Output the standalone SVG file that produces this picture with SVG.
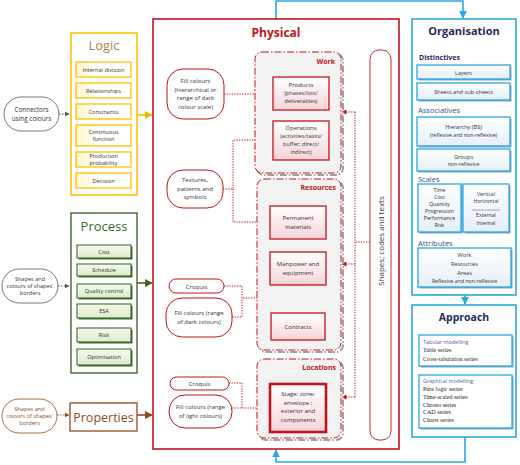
<svg xmlns="http://www.w3.org/2000/svg" width="520" height="465" viewBox="0 0 520 465">
<defs>
<linearGradient id="gY" x1="0" y1="0" x2="1" y2="0"><stop offset="0" stop-color="#FFF3C8"/><stop offset="0.4" stop-color="#FFFFFF"/></linearGradient>
<linearGradient id="gG" x1="0" y1="0" x2="0" y2="1"><stop offset="0" stop-color="#F4F9EE"/><stop offset="1" stop-color="#DCEBCB"/></linearGradient>
<linearGradient id="gR" x1="0" y1="0" x2="0" y2="1"><stop offset="0" stop-color="#FFFFFF"/><stop offset="1" stop-color="#F6D4D8"/></linearGradient>
<linearGradient id="gB" x1="0" y1="0" x2="0" y2="1"><stop offset="0" stop-color="#FFFFFF"/><stop offset="1" stop-color="#E4EEF7"/></linearGradient>
<marker id="aY" viewBox="0 0 10 10" refX="9" refY="5" markerWidth="5" markerHeight="5" orient="auto"><path d="M0,0L10,5L0,10z" fill="#F5B800"/></marker>
<marker id="aG" viewBox="0 0 10 10" refX="9" refY="5" markerWidth="5" markerHeight="5" orient="auto"><path d="M0,0L10,5L0,10z" fill="#4E5E23"/></marker>
<marker id="aBr" viewBox="0 0 10 10" refX="9" refY="5" markerWidth="5" markerHeight="5" orient="auto"><path d="M0,0L10,5L0,10z" fill="#8E4A1E"/></marker>
<marker id="aK" viewBox="0 0 10 10" refX="9" refY="5" markerWidth="5" markerHeight="5" orient="auto"><path d="M0,0L10,5L0,10z" fill="#555"/></marker>
<marker id="aR" viewBox="0 0 10 10" refX="9" refY="5" markerWidth="5" markerHeight="5" orient="auto-start-reverse"><path d="M0,0L10,5L0,10z" fill="#C0141C"/></marker>
<marker id="aB" viewBox="0 0 10 10" refX="9" refY="5" markerWidth="5" markerHeight="5" orient="auto"><path d="M0,0L10,5L0,10z" fill="#29A8E0"/></marker>
</defs>
<style>
text{font-family:"Open Sans","Liberation Sans",sans-serif;text-anchor:middle;fill:#333}
.s{font-size:5.6px}
.p{font-size:6px}
.m{font-size:6.4px}
.yb{fill:url(#gY);stroke:#FFC000;stroke-width:1.3}
.gb{fill:url(#gG);stroke:#2E5E1E;stroke-width:1}
.gsh{fill:#4A6A30}
.rb{fill:url(#gR);stroke:#C0141C;stroke-width:1.3}
.bb{fill:url(#gB);stroke:#29A8E0;stroke-width:1.3}
.bsh{fill:#8AA6C0}
.pill{fill:#fff;stroke:#C0141C;stroke-width:1}
.grp{fill:#F2F2F2;stroke:#C0141C;stroke-width:1;stroke-dasharray:7 2 1.5 2}
.gsd{fill:none;stroke:#A0A0A0;stroke-width:2;stroke-dasharray:7 2 1.5 2}
.rd{fill:none;stroke:#C0141C;stroke-width:1;stroke-dasharray:1.3 1.3}
.gt{font-weight:bold;fill:#C0141C;font-size:7px;text-anchor:end}
.ot{font-size:7.5px;fill:#3C4A8C;text-anchor:start}
.ser{font-family:"Liberation Serif",serif;font-size:6px;text-anchor:start;fill:#222}
</style>

<g id="connectors">
<path d="M59,114H69" fill="none" stroke="#555" stroke-width="1" stroke-dasharray="1.5 1.5" marker-end="url(#aK)"/>
<path d="M58,286H69" fill="none" stroke="#555" stroke-width="1" stroke-dasharray="1.5 1.5" marker-end="url(#aK)"/>
<path d="M57,415H69" fill="none" stroke="#8E4A1E" stroke-width="1" stroke-dasharray="1.5 1.5" marker-end="url(#aBr)"/>
<path d="M137,115H152" fill="none" stroke="#F5B800" stroke-width="1.6" marker-end="url(#aY)"/>
<path d="M137,283H152" fill="none" stroke="#4E5E23" stroke-width="1.6" marker-end="url(#aG)"/>
<path d="M137,415H152" fill="none" stroke="#8E4A1E" stroke-width="1.6" marker-end="url(#aBr)"/>
<path d="M276,19V1H463V18" fill="none" stroke="#29A8E0" stroke-width="1.6" marker-end="url(#aB)"/>
<path d="M465,295V304" fill="none" stroke="#29A8E0" stroke-width="1.6" marker-end="url(#aB)"/>
<path d="M465,437V462H276V450" fill="none" stroke="#29A8E0" stroke-width="1.6" marker-end="url(#aB)"/>
<path d="M224,94H272" class="rd" marker-end="url(#aR)"/>
<path d="M223,189H233V140H272" class="rd" marker-end="url(#aR)"/>
<path d="M233,189V222H269" class="rd" marker-end="url(#aR)"/>
<path d="M224,286H242V298H298" class="rd"/>
<path d="M232,317H242V298" class="rd"/>
<path d="M298,287V312" class="rd" marker-start="url(#aR)" marker-end="url(#aR)"/>
<path d="M229,383H242V408" class="rd"/>
<path d="M232,408H268" class="rd" marker-end="url(#aR)"/>
<path d="M370,242H355" class="rd"/>
<path d="M355,112V397" class="rd"/>
<path d="M355,112H342" class="rd" marker-end="url(#aR)"/>
<path d="M355,264H342" class="rd" marker-end="url(#aR)"/>
<path d="M355,397H342" class="rd" marker-end="url(#aR)"/>
</g>

<g id="connectors-pill">
<rect x="4" y="97" width="55" height="34" rx="17" fill="#fff" stroke="#555" stroke-width="0.8"/>
<text x="31.5" y="112" class="m">Connectors</text>
<text x="31.5" y="121" class="m">using colours</text>
</g>

<g id="logic">
<rect x="71" y="33" width="66" height="162" fill="#fff" stroke="#FFC000" stroke-width="1.6"/>
<text x="104" y="50" style="font-size:13px;fill:#A8864A">Logic</text>
<rect x="76" y="62" width="55" height="15" class="yb"/><text x="103.5" y="71.5" class="s">Internal division</text>
<rect x="76" y="83" width="55" height="15" class="yb"/><text x="103.5" y="92.5" class="s">Relationships</text>
<rect x="76" y="104" width="55" height="15" class="yb"/><text x="103.5" y="113.5" class="s">Constraints</text>
<rect x="76" y="125" width="55" height="21" class="yb"/><text x="103.5" y="134" class="s">Continuous</text><text x="103.5" y="141" class="s">function</text>
<rect x="76" y="152" width="55" height="15" class="yb"/><text x="103.5" y="158" class="s">Production</text><text x="103.5" y="165" class="s">probability</text>
<rect x="76" y="173" width="55" height="15" class="yb"/><text x="103.5" y="182.5" class="s">Decision</text>
</g>

<g id="shapes-pill-process">
<rect x="2" y="269" width="56" height="34" rx="17" fill="#fff" stroke="#555" stroke-width="0.8"/>
<text x="30" y="281" class="s">Shapes and</text>
<text x="30" y="288" class="s">colours of shapes'</text>
<text x="30" y="295" class="s">borders</text>
</g>

<g id="process">
<rect x="71" y="213" width="66" height="160" fill="#fff" stroke="#2E5E1E" stroke-width="1.3"/>
<text x="104" y="231" style="font-size:13px;fill:#3A6B2A">Process</text>
<rect x="78.5" y="246.5" width="54" height="13" class="gsh"/><rect x="77" y="245" width="54" height="13" class="gb"/><text x="104" y="253.5" class="s">Cost</text>
<rect x="78.5" y="265.5" width="54" height="12" class="gsh"/><rect x="77" y="264" width="54" height="12" class="gb"/><text x="104" y="272" class="s">Schedule</text>
<rect x="78.5" y="285.5" width="54" height="14" class="gsh"/><rect x="77" y="284" width="54" height="14" class="gb"/><text x="104" y="293" class="s">Quality control</text>
<rect x="78.5" y="305.5" width="54" height="14" class="gsh"/><rect x="77" y="304" width="54" height="14" class="gb"/><text x="104" y="313" class="s">ESA</text>
<rect x="78.5" y="329.5" width="54" height="14" class="gsh"/><rect x="77" y="328" width="54" height="14" class="gb"/><text x="104" y="337" class="s">Risk</text>
<rect x="78.5" y="350.5" width="54" height="16" class="gsh"/><rect x="77" y="349" width="54" height="16" class="gb"/><text x="104" y="359" class="s">Optimisation</text>
</g>

<g id="shapes-pill-properties">
<rect x="2" y="399" width="55" height="34" rx="17" fill="#fff" stroke="#8E4A1E" stroke-width="0.8"/>
<text x="29.5" y="411" class="s" style="fill:#8E4A1E">Shapes and</text>
<text x="29.5" y="418" class="s" style="fill:#8E4A1E">colours of shapes'</text>
<text x="29.5" y="425" class="s" style="fill:#8E4A1E">borders</text>
</g>

<g id="properties">
<rect x="70" y="403" width="67" height="28" fill="#fff" stroke="#8E4A1E" stroke-width="1.3"/>
<text x="103.5" y="421.5" style="font-size:12.5px;fill:#8E4A1E">Properties</text>
</g>

<g id="physical">
<rect x="153" y="19" width="246" height="430" fill="none" stroke="#C0141C" stroke-width="1.6"/>
<text x="276" y="37" style="font-size:12px;font-weight:bold;fill:#C0141C">Physical</text>
</g>

<g id="work">
<rect x="257" y="54" width="86" height="121" rx="7" class="gsd"/>
<rect x="255" y="52" width="86" height="121" rx="7" class="grp"/>
<text x="335" y="64" class="gt">Work</text>
</g>
<g id="products">
<rect x="273" y="77" width="56" height="33" class="rb"/>
<text x="301" y="87" class="p">Products</text><text x="301" y="95" class="s">(phases/lots/</text><text x="301" y="103" class="s">deliverables)</text>
</g>
<g id="operations">
<rect x="273" y="121" width="56" height="39" class="rb"/>
<text x="301" y="130" class="p">Operations</text><text x="301" y="138" class="s">(activities/tasks/</text><text x="301" y="146" class="s">buffer; direct/</text><text x="301" y="154" class="s">indirect)</text>
</g>
<g id="fill-hier">
<rect x="167" y="69" width="57" height="50" rx="16" class="pill"/>
<text x="195.5" y="83" class="p">Fill colours</text><text x="195.5" y="91.5" class="p">(hierarchical or</text><text x="195.5" y="100" class="p">range of dark</text><text x="195.5" y="108.5" class="p">colour scale)</text>
</g>
<g id="textures">
<rect x="167" y="170" width="56" height="38" rx="16" class="pill"/>
<text x="195" y="182" class="p">Textures,</text><text x="195" y="190.5" class="p">patterns and</text><text x="195" y="199" class="p">symbols</text>
</g>

<g id="resources">
<rect x="259" y="181" width="84" height="171" rx="7" class="gsd"/>
<rect x="257" y="179" width="84" height="171" rx="7" class="grp"/>
<text x="336" y="190" class="gt">Resources</text>
</g>
<g id="permanent">
<rect x="270" y="206" width="56" height="33" class="rb"/>
<text x="298" y="220" class="p">Permanent</text><text x="298" y="229" class="p">materials</text>
</g>
<g id="manpower">
<rect x="270" y="252" width="56" height="33" class="rb"/>
<text x="298" y="266" class="p">Manpower and</text><text x="298" y="275" class="p">equipment</text>
</g>
<g id="contracts">
<rect x="271" y="313" width="54" height="27" class="rb"/>
<text x="298" y="329" class="p">Contracts</text>
</g>
<g id="croquis-dark">
<rect x="169" y="279" width="55" height="14" rx="7" class="pill"/>
<text x="196.5" y="288.5" class="p">Croquis</text>
</g>
<g id="fill-dark">
<rect x="166" y="298" width="66" height="39" rx="16" class="pill"/>
<text x="199" y="315" class="p">Fill colours (range</text><text x="199" y="324" class="p">of dark colours)</text>
</g>

<g id="locations">
<rect x="259" y="361" width="84" height="79" rx="7" class="gsd"/>
<rect x="257" y="359" width="84" height="79" rx="7" class="grp"/>
<text x="336" y="370" class="gt">Locations</text>
</g>
<g id="stage">
<rect x="270" y="384" width="56" height="48" fill="url(#gR)" stroke="#C0141C" stroke-width="2.6"/>
<text x="298" y="396" class="p">Stage; zone;</text><text x="298" y="404.5" class="p">envelope ;</text><text x="298" y="413" class="p">exterior and</text><text x="298" y="421.5" class="p">components</text>
</g>
<g id="croquis-light">
<rect x="170" y="377" width="59" height="13" rx="6.5" class="pill"/>
<text x="199.5" y="386" class="p">Croquis</text>
</g>
<g id="fill-light">
<rect x="169" y="395" width="63" height="33" rx="16" class="pill"/>
<text x="200.5" y="409" class="p">Fill colours (range</text><text x="200.5" y="418" class="p">of light colours)</text>
</g>

<g id="shapes-codes">
<rect x="370" y="50" width="21" height="390" rx="9" fill="#fff" stroke="#C0141C" stroke-width="0.9"/>
<text transform="translate(383.5,241) rotate(-90)" style="font-size:8px">Shapes; codes and texts</text>
</g>

<g id="organisation">
<rect x="412" y="19" width="104" height="276" fill="#fff" stroke="#29A8E0" stroke-width="1.6"/>
<text x="464" y="35" style="font-size:11px;font-weight:bold;fill:#1F2A5E">Organisation</text>
<text x="419" y="60" style="font-size:7px;font-weight:bold;fill:#1F2A5E;text-anchor:start">Distinctives</text>
<rect x="418.5" y="66.5" width="93" height="14" class="bsh"/><rect x="417" y="65" width="93" height="14" class="bb"/><text x="463.5" y="74.5" class="s">Layers</text>
<rect x="418.5" y="84.5" width="93" height="17" class="bsh"/><rect x="417" y="83" width="93" height="17" class="bb"/><text x="463.5" y="93.5" class="s">Sheets and sub-sheets</text>
<text x="418" y="113" class="ot">Associatives</text>
<rect x="418.5" y="118.5" width="93" height="29" class="bsh"/><rect x="417" y="117" width="93" height="29" class="bb"/><text x="463.5" y="129" class="s">Hierarchy (BS)</text><text x="463.5" y="137" class="s" style="font-size:5.2px">(reflexive and non-reflexive)</text>
<rect x="418.5" y="150.5" width="93" height="22" class="bsh"/><rect x="417" y="149" width="93" height="22" class="bb"/><text x="463.5" y="158.5" class="s">Groups</text><text x="463.5" y="166" class="s" style="font-size:5.2px">non-reflexive</text>
<text x="418" y="182" class="ot">Scales</text>
<rect x="419.5" y="185.5" width="43" height="48" class="bsh"/><rect x="418" y="184" width="43" height="48" class="bb"/>
<text x="439.5" y="191.5" class="s" style="font-size:5.2px">Time</text><text x="439.5" y="198.5" class="s" style="font-size:5.2px">Cost</text><text x="439.5" y="205.5" class="s" style="font-size:5.2px">Quantity</text><text x="439.5" y="212.5" class="s" style="font-size:5.2px">Progression</text><text x="439.5" y="219.5" class="s" style="font-size:5.2px">Performance</text><text x="439.5" y="226.5" class="s" style="font-size:5.2px">Risk</text>
<rect x="464.5" y="185.5" width="46" height="48" class="bsh"/><rect x="463" y="184" width="46" height="48" class="bb"/>
<text x="486" y="195.5" class="s" style="font-size:5.2px">Vertical</text><text x="486" y="203" class="s" style="font-size:5.2px">Horizontal</text>
<line x1="472" y1="210" x2="500" y2="210" stroke="#555" stroke-width="0.5"/>
<text x="486" y="217" class="s" style="font-size:5.2px">External</text><text x="486" y="224.5" class="s" style="font-size:5.2px">Internal</text>
<text x="418" y="246" class="ot">Attributes</text>
<rect x="419.5" y="249.5" width="93" height="39" class="bsh"/><rect x="418" y="248" width="93" height="39" class="bb"/>
<text x="464.5" y="257" class="s">Work</text><text x="464.5" y="266" class="s">Resources</text><text x="464.5" y="275" class="s">Areas</text><text x="464.5" y="283" class="s" style="font-size:5.2px">Reflexive and non-reflexive</text>
</g>

<g id="approach">
<rect x="412" y="305" width="104" height="132" fill="#fff" stroke="#29A8E0" stroke-width="1.6"/>
<text x="464" y="321" style="font-size:10.5px;font-weight:bold;fill:#1F2A5E">Approach</text>
<rect x="420.5" y="336.5" width="93" height="31" class="bsh"/><rect x="419" y="335" width="93" height="31" fill="#fff" stroke="#29A8E0" stroke-width="1.3"/>
<text x="423" y="344" class="ser" style="fill:#5060A0;font-family:'Open Sans','Liberation Sans',sans-serif;font-size:5.4px">Tabular modelling</text>
<text x="423" y="352" class="ser">Table series</text>
<text x="423" y="361" class="ser">Cross-tabulation series</text>
<rect x="420.5" y="376.5" width="93" height="53" class="bsh"/><rect x="419" y="375" width="93" height="53" fill="#fff" stroke="#29A8E0" stroke-width="1.3"/>
<text x="423" y="383" class="ser" style="fill:#5060A0;font-family:'Open Sans','Liberation Sans',sans-serif;font-size:5.4px">Graphical modelling</text>
<text x="423" y="391" class="ser">Pure logic series</text>
<text x="423" y="399" class="ser">Time-scaled series</text>
<text x="423" y="406.5" class="ser">Chrono series</text>
<text x="423" y="414" class="ser">CAD series</text>
<text x="423" y="422" class="ser">Charts series</text>
</g>
</svg>
